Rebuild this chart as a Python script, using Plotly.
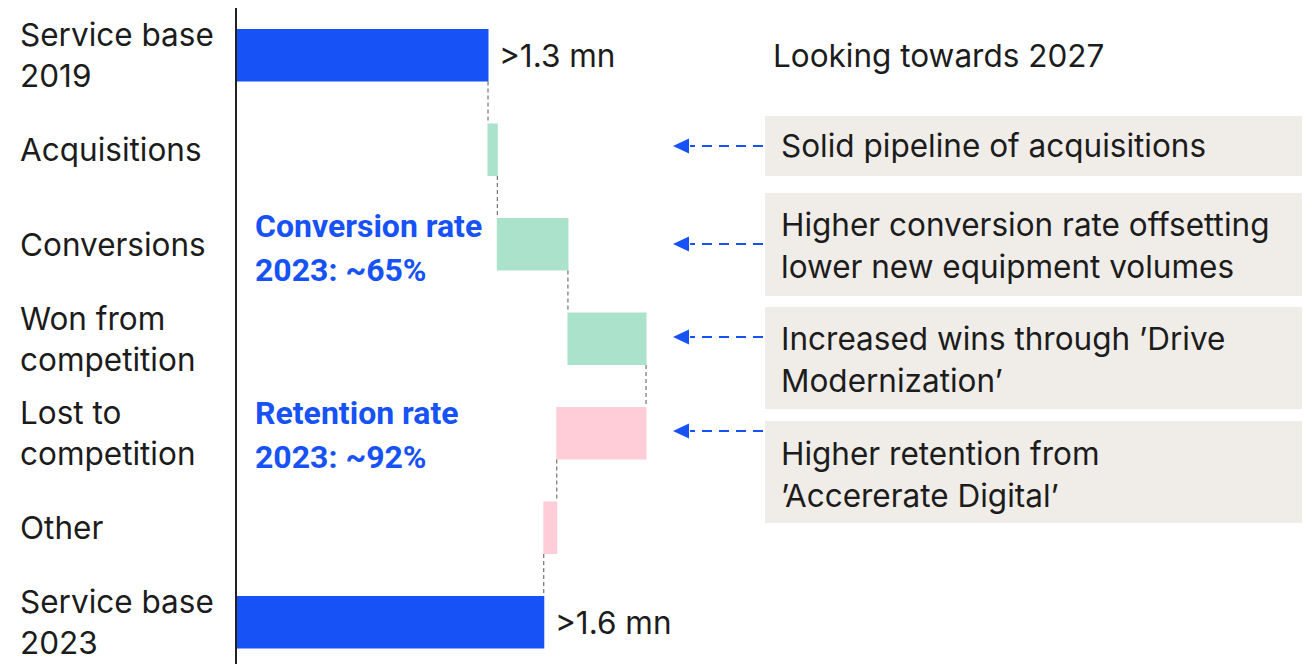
import plotly.graph_objects as go

# Service base bridge 2019 -> 2023 (million units)
categories = [
    "Service base 2019",
    "Acquisitions",
    "Conversions",
    "Won from competition",
    "Lost to competition",
    "Other",
    "Service base 2023",
]
measures = ["absolute", "relative", "relative", "relative", "relative", "relative", "total"]
values = [1.35, 0.05, 0.38, 0.42, -0.48, -0.07, 0]
category_lines = [
    ["Service base", "2019"],
    ["Acquisitions"],
    ["Conversions"],
    ["Won from", "competition"],
    ["Lost to", "competition"],
    ["Other"],
    ["Service base", "2023"],
]
value_labels = {"Service base 2019": ">1.3 mn", "Service base 2023": ">1.6 mn"}

outlook_title = "Looking towards 2027"
outlook_notes = [
    ["Solid pipeline of acquisitions"],
    ["Higher conversion rate offsetting", "lower new equipment volumes"],
    ["Increased wins through \u2019Drive", "Modernization\u2019"],
    ["Higher retention from", "\u2019Accererate Digital\u2019"],
]
rate_notes = [
    ["Conversion rate", "2023: ~65%"],
    ["Retention rate", "2023: ~92%"],
]

BLUE = "#1652F5"
GREEN = "#ABE2CB"
PINK = "#FFCDD7"
BOX = "#F0ECE8"
INK = "#1c1c1c"
BODY_FONT = "Inter"
FS = 31.5

W, H = 1312, 664
ML, MR, MT, MB = 237, 0, 8, 0
PX_PER_UNIT = 251 / 1.35
plot_w = W - ML - MR
plot_h = H - MT - MB


def px_x(p):
    return (p - ML) / plot_w


def px_y(p):
    return 1 - (p - MT) / plot_h


fig = go.Figure(
    go.Waterfall(
        orientation="h",
        y=categories,
        x=values,
        measure=measures,
        width=0.556,
        totals=dict(marker=dict(color=BLUE, line=dict(width=0))),
        increasing=dict(marker=dict(color=GREEN, line=dict(width=0))),
        decreasing=dict(marker=dict(color=PINK, line=dict(width=0))),
        connector=dict(mode="between", line=dict(color="#555555", width=1, dash="4px,3px")),
        hoverinfo="skip",
    )
)

annotations = []

# category labels, left aligned at the page edge
for cat, lines in zip(categories, category_lines):
    n = len(lines)
    for i, line in enumerate(lines):
        shift = (-(i - (n - 1) / 2)) * 41
        annotations.append(dict(
            x=px_x(18), xref="paper", xanchor="left",
            y=cat, yref="y", yanchor="middle", yshift=shift,
            text=line, showarrow=False,
            font=dict(family=BODY_FONT, size=FS, color=INK),
        ))

# value labels at the ends of the total bars
running = 0.0
for cat, m, v in zip(categories, measures, values):
    if m == "absolute":
        running = v
    elif m == "relative":
        running += v
    if cat in value_labels:
        annotations.append(dict(
            x=running, xref="x", xanchor="left", xshift=9,
            y=cat, yref="y", yanchor="middle",
            text=value_labels[cat], showarrow=False,
            font=dict(family=BODY_FONT, size=FS, color=INK),
        ))

# rate call-outs
for lines, y0 in zip(rate_notes, [226, 413]):
    for i, line in enumerate(lines):
        annotations.append(dict(
            x=px_x(253), xref="paper", xanchor="left",
            y=px_y(y0 + i * 44), yref="paper", yanchor="middle",
            text="<b>" + line + "</b>", showarrow=False,
            font=dict(family="Roboto", size=32, color=BLUE),
        ))

# outlook title
annotations.append(dict(
    x=px_x(771), xref="paper", xanchor="left",
    y=px_y(56), yref="paper", yanchor="middle",
    text=outlook_title, showarrow=False,
    font=dict(family=BODY_FONT, size=FS, color=INK),
))

shapes = []
box_spans = [(116, 176), (193, 296), (307, 409), (421, 523)]
arrow_ys = [146, 244, 337, 431]
text_tops = [146, 224, 338, 453]
for lines, (top, bot), ay, ty in zip(outlook_notes, box_spans, arrow_ys, text_tops):
    shapes.append(dict(
        type="rect", xref="paper", yref="paper", layer="below",
        x0=px_x(765), x1=px_x(1302), y0=px_y(bot), y1=px_y(top),
        fillcolor=BOX, line=dict(width=0),
    ))
    shapes.append(dict(
        type="line", xref="paper", yref="paper",
        x0=px_x(763), x1=px_x(690), y0=px_y(ay), y1=px_y(ay),
        line=dict(color=BLUE, width=2, dash="10px,7px"),
    ))
    tip, base, half = px_x(673), px_x(689), 7.5
    shapes.append(dict(
        type="path", xref="paper", yref="paper",
        path=f"M {tip} {px_y(ay)} L {base} {px_y(ay - half)} L {base} {px_y(ay + half)} Z",
        fillcolor=BLUE, line=dict(width=0),
    ))
    for i, line in enumerate(lines):
        annotations.append(dict(
            x=px_x(779), xref="paper", xanchor="left",
            y=px_y(ty + i * 42.5), yref="paper", yanchor="middle",
            text=line, showarrow=False,
            font=dict(family=BODY_FONT, size=FS, color=INK),
        ))

fig.update_layout(
    width=W, height=H,
    margin=dict(l=ML, r=MR, t=MT, b=MB, pad=0),
    paper_bgcolor="white", plot_bgcolor="white",
    showlegend=False,
    xaxis=dict(range=[0, plot_w / PX_PER_UNIT], showticklabels=False, showgrid=False,
               zeroline=False, showline=False, ticks=""),
    yaxis=dict(type="category", categoryorder="array", categoryarray=categories,
               range=[-0.5 + plot_h / 94.5, -0.5], showticklabels=False, showgrid=False,
               zeroline=False, showline=True, linecolor="#222222", linewidth=2, ticks=""),
    annotations=annotations,
    shapes=shapes,
)

fig.write_html("out.html")
